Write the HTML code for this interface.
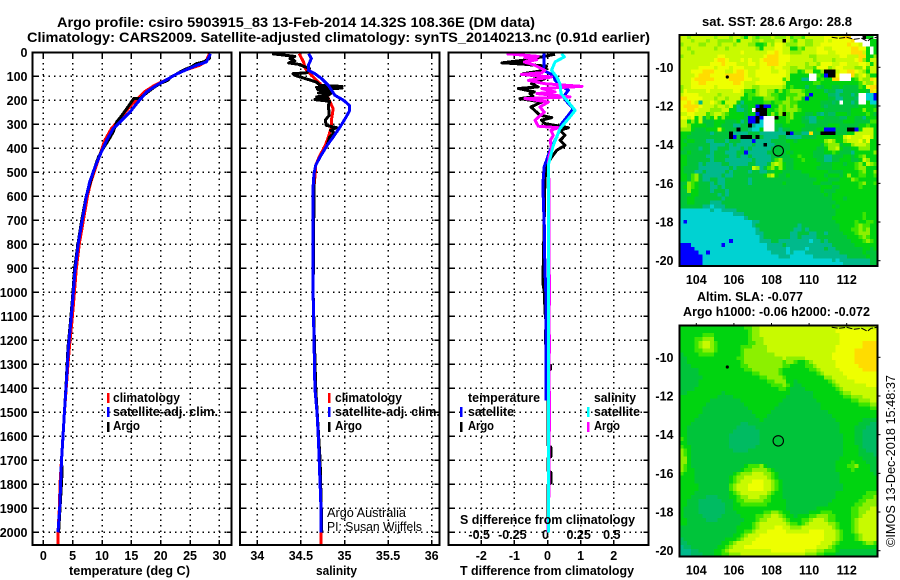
<!DOCTYPE html>
<html lang="en">
<head>
<meta charset="utf-8">
<title>Argo profile csiro 5903915_83</title>
<style>
html,body{margin:0;padding:0;background:#fff;}
#chart{display:block;width:900px;height:580px;background:#fff;}
text{font-family:"Liberation Sans",sans-serif;font-weight:bold;font-size:12.5px;fill:#000;}
.thin{font-weight:normal;}
.frame{fill:none;stroke:#000;stroke-width:1.6;shape-rendering:crispEdges;}
</style>
</head>
<body>
<svg id="chart" xmlns="http://www.w3.org/2000/svg" width="900" height="580" viewBox="0 0 900 580">
  <text x="57" y="27" font-size="14" style="font-size:14px" textLength="478" lengthAdjust="spacingAndGlyphs">Argo profile: csiro 5903915_83 13-Feb-2014 14.32S 108.36E (DM data)</text>
  <text x="27" y="42" style="font-size:14px" textLength="623" lengthAdjust="spacingAndGlyphs">Climatology: CARS2009. Satellite-adjusted climatology: synTS_20140213.nc (0.91d earlier)</text>

  <g id="maps"></g>
  <g id="panels"></g>

  <rect class="frame" x="32.5" y="52.5" width="199" height="492.5"/>
  <rect class="frame" x="240" y="52.5" width="199.5" height="492.5"/>
  <rect class="frame" x="448.5" y="52.5" width="200" height="492.5"/>
  <rect class="frame" x="679.5" y="35" width="198" height="231"/>
  <rect class="frame" x="679.5" y="325.5" width="198" height="231"/>

  <!-- temperature legend -->
  <rect x="107" y="393" width="2.5" height="10" fill="#ff0000"/>
  <rect x="107" y="407" width="2.5" height="10" fill="#0000ff"/>
  <rect x="107" y="422" width="2.5" height="10" fill="#000"/>
  <text x="113" y="402" textLength="67" lengthAdjust="spacingAndGlyphs">climatology</text>
  <text x="113" y="416" textLength="105" lengthAdjust="spacingAndGlyphs">satellite-adj. clim.</text>
  <text x="113" y="430" textLength="27" lengthAdjust="spacingAndGlyphs">Argo</text>

  <!-- salinity legend -->
  <rect x="328" y="393" width="2.5" height="10" fill="#ff0000"/>
  <rect x="328" y="407" width="2.5" height="10" fill="#0000ff"/>
  <rect x="328" y="422" width="2.5" height="10" fill="#000"/>
  <text x="335" y="402" textLength="67" lengthAdjust="spacingAndGlyphs">climatology</text>
  <text x="335" y="416" textLength="105" lengthAdjust="spacingAndGlyphs">satellite-adj. clim.</text>
  <text x="335" y="430" textLength="27" lengthAdjust="spacingAndGlyphs">Argo</text>
  <text class="thin" x="327" y="517" textLength="79" lengthAdjust="spacingAndGlyphs">Argo Australia</text>
  <text class="thin" x="327" y="531" textLength="95" lengthAdjust="spacingAndGlyphs">PI: Susan Wijffels</text>

  <!-- difference legend -->
  <text x="468" y="402" textLength="72" lengthAdjust="spacingAndGlyphs">temperature</text>
  <rect x="460" y="407" width="2.5" height="10" fill="#0000ff"/>
  <text x="468" y="416" textLength="46" lengthAdjust="spacingAndGlyphs">satellite</text>
  <rect x="460" y="422" width="2.5" height="10" fill="#000"/>
  <text x="468" y="430" textLength="26" lengthAdjust="spacingAndGlyphs">Argo</text>
  <text x="594" y="402" textLength="42" lengthAdjust="spacingAndGlyphs">salinity</text>
  <rect x="587" y="407" width="2.5" height="10" fill="#00ffff"/>
  <text x="594" y="416" textLength="46" lengthAdjust="spacingAndGlyphs">satellite</text>
  <rect x="587" y="422" width="2.5" height="10" fill="#ff00ff"/>
  <text x="594" y="430" textLength="26" lengthAdjust="spacingAndGlyphs">Argo</text>

  <!-- axis titles -->
  <text x="69" y="575" textLength="121" lengthAdjust="spacingAndGlyphs">temperature (deg C)</text>
  <text x="316" y="575" textLength="41" lengthAdjust="spacingAndGlyphs">salinity</text>
  <text x="460" y="575" textLength="174" lengthAdjust="spacingAndGlyphs">T difference from climatology</text>
  <text x="460" y="524" textLength="175" lengthAdjust="spacingAndGlyphs">S difference from climatology</text>

  <!-- map captions -->
  <text x="702" y="26" textLength="150" lengthAdjust="spacingAndGlyphs">sat. SST: 28.6 Argo: 28.8</text>
  <text x="697" y="301" textLength="106" lengthAdjust="spacingAndGlyphs">Altim. SLA: -0.077</text>
  <text x="683" y="316" textLength="187" lengthAdjust="spacingAndGlyphs">Argo h1000: -0.06 h2000: -0.072</text>
  <text class="thin" transform="translate(895 547) rotate(-90)" x="0" y="0" style="font-size:13px" textLength="172" lengthAdjust="spacingAndGlyphs">©IMOS 13-Dec-2018 15:48:37</text>
</svg>

<script>
// ---------- profile data ----------
const depthTicks = [0,100,200,300,400,500,600,700,800,900,1000,1100,1200,1300,1400,1500,1600,1700,1800,1900,2000];
const tempTicks = [0,5,10,15,20,25,30];
const salTicks = [34,34.5,35,35.5,36];
const salTickLabels = ['34','34.5','35','35.5','36'];
const diffTicks = [-2,-1,0,1,2];
const diffSalTicks = [-0.5,-0.25,0,0.25,0.5];
const diffSalLabels = ['-0.5','-0.25','0','0.25','0.5'];

const tempClimDepth = [6,40,54,72,91,114,137,165,214,248,290,318,366,429,478,540,603,712,795,907,1032,1128,1228,1300,1400,1500,1600,1700,1800,1900,2000,2054];
const tempClim = [28.3,27.7,26.6,24.4,22.7,21,19,17.2,15.2,14,12.6,11.6,10.5,9.6,8.95,8.1,7.5,6.75,6.15,5.6,5.2,4.85,4.45,4.2,3.9,3.6,3.35,3.1,2.85,2.75,2.5,2.5];
const tempSatDepth = [6,40,54,72,91,114,137,165,214,248,290,318,366,429,478,540,603,712,795,907,1032,1128,1228,1300,1400,1500,1600,1700,1800,1900,2000];
const tempSat = [28.5,27.8,26.1,24.4,22.7,21,19.3,17.6,15.9,14.8,13.1,11.9,10.8,9.65,8.8,7.9,7.3,6.54,5.97,5.4,5,4.67,4.27,4.1,3.87,3.6,3.35,3.1,2.95,2.8,2.5];
const tempArgoDepth = [6,26,40,47,61,75,91,105,116,130,147,169,193,193,225,262,290,332,366,401,436,500,600,700,800,900,1030,1130,1230,1400,1700,1750,2000];
const tempArgo = [28.4,28.3,27.3,26.1,25.2,23.8,22.7,21.6,21.3,19.9,18.8,17.6,16.5,15.4,14.5,13.4,12.5,11.9,11.1,10.2,9.4,8.5,7.3,6.55,5.9,5.35,4.95,4.6,4.2,3.85,3.1,3.2,2.6];

const salClimDepth = [6,40,68,96,131,165,193,235,283,311,353,388,436,471,519,561,700,1000,1200,1400,1500,1600,1700,1800,1900,2000,2054];
const salClim = [34.48,34.53,34.55,34.62,34.72,34.78,34.815,34.87,34.85,34.85,34.815,34.78,34.71,34.67,34.66,34.65,34.64,34.64,34.65,34.66,34.685,34.7,34.71,34.72,34.73,34.73,34.73];
const salSatDepth = [6,26,54,75,89,110,138,179,200,221,242,269,311,353,388,436,471,506,561,700,1000,1200,1400,1500,1600,1700,1800,1900,2000];
const salSat = [34.59,34.62,34.585,34.585,34.66,34.74,34.815,34.89,34.99,35.055,35.06,35.02,34.95,34.87,34.8,34.72,34.67,34.65,34.64,34.64,34.64,34.65,34.66,34.685,34.7,34.71,34.72,34.73,34.73];
const salArgoDepth = [6,17,26,36,44,50,68,85,89,96,124,138,142,146,149,154,158,169,172,179,186,193,197,204,221,262,283,304,314,325,335,353,388,436,471,506,575,1000,1400,1700,2000];
const salArgo = [34.17,34.43,34.375,34.43,34.36,34.47,34.6,34.57,34.41,34.43,34.68,34.72,34.97,34.68,34.97,34.69,34.85,34.7,34.84,34.815,34.68,34.815,34.66,34.83,34.815,34.825,34.78,34.79,34.91,34.84,34.88,34.83,34.8,34.72,34.67,34.65,34.65,34.64,34.67,34.72,34.74];

const diffTSatDepth = [6,54,75,96,117,138,158,186,214,235,262,297,353,408,450,478,547,644,700,900,1000,1450];
const diffTSat = [-0.1,-0.1,-0.13,0.18,0.23,0.38,0.63,0.48,0.63,0.78,0.63,0.43,0.28,0.08,-0.03,-0.1,-0.14,-0.12,-0.1,-0.08,-0.05,-0.05];
const diffTArgoDepth = [8,19,33,44,47,44,50,58,75,89,92,110,131,144,151,165,172,186,193,207,228,262,272,283,297,314,325,346,367,388,408,436,471,533,700,900,970,1000,1080,1150,1158,1212,1230,1300,1305,1320,1330,1640,1645,1685,1690,1745,1750,1795,1800,2000];
const diffTArgo = [0.23,-0.18,-0.73,-1.38,-0.68,-1.3,-0.68,-0.03,-0.08,-0.73,-0.6,-0.08,-0.48,-0.28,-0.88,-0.4,-0.53,-0.43,-0.83,-0.18,-0.5,-0.23,0.13,-0.18,-0.08,0.63,0.38,0.53,0.38,0.53,0.28,0.13,-0.03,-0.08,-0.1,-0.13,-0.13,-0.09,-0.08,-0.02,-0.06,-0.06,-0.02,0.02,0.09,0.09,0.02,0.02,0.1,0.1,0.02,0.02,0.1,0.1,0.02,0.02];
const diffSArgoDepth = [6,17,22,31,40,54,75,85,92,103,117,131,142,151,165,172,186,193,207,228,249,283,308,314,325,346,367,401,436,478,547,925,930,1050,1055,1175,1180,1250,1255,1410,1415,1575,1580,1780,1785,1850,1855,2000];
const diffSArgo = [-0.31,-0.07,-0.17,-0.08,-0.175,-0.095,-0.02,-0.044,-0.195,0.03,-0.145,-0.02,0.26,-0.044,0.057,-0.08,0.17,-0.17,0.006,-0.057,-0.024,-0.094,-0.07,0.08,0.026,0.044,0.02,0.03,0.011,0.006,0.011,0.01,0.016,0.016,0.01,0.01,0.016,0.016,0.01,0.01,0.016,0.016,0.01,0.01,0.013,0.013,0.008,0.004];
const diffSSatDepth = [6,19,40,75,103,131,172,207,242,269,318,388,464,700,2000];
const diffSSat = [0.107,0.127,0.057,0.03,0.07,0.094,0.102,0.157,0.208,0.17,0.094,0.044,0.009,0.009,0.009];

// ---------- map data: one letter per grid cell ----------
const mapPalette = {b:'#0000ff',c:'#00d2d2',t:'#00b98c',s:'#00bb62',g:'#00c43a',h:'#00d410',i:'#3ce600',l:'#8cf000',m:'#c8fa00',y:'#eeff00',o:'#ffdc00',k:'#000000',w:'#ffffff'};
const sstRows = [
"mmlmmmmmml mmmlmmlhml illlmlllmi llimmmmmyy yyyoowwwkhhw",
"mmmlmmmlmm llllmhmmml lmlllmmkml immllmmmym yyyyyowwwwhh",
"lmmmmllmmm lmmmlmmmll hhimlyymll lmmllmmyyy yyyyoyymwwhh",
"mmlmmmmmml mmlmmmmmmm lhmmmyymmh hlimmmyymm yyyyyooyyhwh",
"mmmlmmmmmm mmmmmmymmm mmmyyoymml llmmmmyyym myyyyooomhwh",
"lmmmmmmmmm yymmmmmmmm mmyoooyyym mmmmllmmmm mmyymmmoohhl",
"mmmmmmmmmy ooymmmymym myooooyyym mmmmmlmmmm lmmmmmyolhmm",
"mmmmmmmmyy yoyyymmmyy myyoooyymm mmmlmmlyyy mmyymmmyymhm",
"mmmmmyyyym yyymyyymmm myyymyymml lmmlliyyyl myymmmllyimm",
"mmmyyyoooy yymmyooymm yyyymmyyml lhimmhhlkk kmyyooymlhmm",
"mmmmyoooyy yyoooooymm yyyyyyyymh hhhhwwihbk kywwwolmylhh",
"mmmyoooooy yyyooooyym myyyyyyimh hhttwwhihh oowwwhimlloy",
"mmmyyooyyy yyyyooymmm yyyyyyymhh hhhhhiihhh hhhhhhhimlly",
"lmmyyyyyym yyyyyyymml lmmmmmmlhi hhhshhsghh gghggggihyoo",
"lymmmmmymm mmmmyymiih lmmllhlhil llihhhhhsg gttgggghhgoy",
"myyyymmmmm lmmmmmmhii lmmliihhii illhbhhhhs stgggtgwwccb",
"ooyyyymmml mmlmmmhhih hhlllihhli llhbhhhhhg gttgggswwccb",
"yyoymtmmym lhmmmhthhh hhiihiilli ihhhhhhggg sgwggtgwwhcc",
"yooooymmml mmlmhtgghh bkbbhhlili lhhhhhhgsg ggggggghhhhg",
"yyooymmmll lmmhhttghw kkkhhilill lihhhhhhgg ggggghhhlhhi",
"mmyymmmilm mlihhhhghh bkkhlhlkil hhhgghstgs shhhghhhhihg",
"yymyhmgihm hlhhhhhgbb kbwwwkhhil hhgstthhgg ggsshhggthhh",
"mmhlhmgggh hhggghtgbb kcwwwhhhih hhggttgggg ggghhhggggii",
"mmlhhhhggh hgggttggkt ccwwwgghhh hhhggggggh hhggggghhihh",
"lllhggghhh mhgggkggtc chwwwgtggh hhgggghhbb bgggkkbhmmmh",
"hhhgggggtg gggkttttgg gtttttttkb ggttoggkkk kggghhmmmmmh",
"hhgggggggg gggkbgkkkg kgttttggtt ttgggghhhh hhhmymmmyymh",
"hghhgggttg ggtgggtttb ttttgggghh ghhhhhhhlm lhhlmmmylyhh",
"hhggggggtt ttgtgttttg ttkttggggh hhhhhhhgil llghhlmmmlhh",
"hggggtggtt gggtttgtgt ttttgggggh hhhhhhgghl lmhgghhlllhh",
"gghgggggtg ggtttggbtt tttggggghg hhhhhggghh ihgggthhhhhl",
"hhgggggttg gggttgttgt ttttgggggh hihhhgggtt ggghhghilhhh",
"hhggggggtg ggtttttttg ttttgilggg hhihhhggtt gghhhgghmlhh",
"hhgggtgttt tggtttttgg tttglmlhgg hhhhhhhggg hhhghhilhmli",
"hggggttttt tttgtggggm ltgilhlhgg hhhhhhgggg hhhhhhillhhh",
"hgggttgttt ttgtggggtg gttgghhggg gghhhhhhhg ggghhhhilhhl",
"hhgilgtttt tgttgggggg gghlmhgghg gggghhhhgh hhghlhhiihhi",
"hhgilgttgg ttggggggtg gggggggggg gggggghhhg gghhhlihhhhh",
"gglihgggtg ttggggggtg ggggggghgg ggggghhggg hhhhhhhilhhi",
"ghlihgggtt gtgggggggg gggggggggg ggggggghhh gghhhhhihhhh",
"gglhhgggtg ggtggggggg gggggggggg ggggggghgg ghhhhhhhhhhh",
"ggghhggggg tgtggggggg gggggggggg gggggggghg hhhhhhhhhhhh",
"gghhgggggg gtgggggggg gggggggggg gggggggggg hhhghhhhhhhh",
"gghhggggtt tggggggggg gggggggggg gggggggggg ghhhhhhhhhhh",
"ggggggttct ttgggggggg gggggggggg gggggggggg hghhhhhhhhhh",
"cccccccctc cttttggggg gggggggggg gggggggggg ghhhhhhhhhhh",
"cccccccccc cccctttggg gggggggggg gggggggggg ghhhhhhhihhh",
"cccccccccc ccccccctgg gggggggggg gggggggggg hhhhhhhhihhh",
"cbcccccccc ccccccccct tggggggggg gggggggggg ghhhhhihhiih",
"cccccccccc ccccccccct gggggggggg gtgggggggg gghhhhiliihh",
"cccccccccc cccccccccc tggggggggg ttgtgggggg gghhhiililhh",
"cccccccccc cccccccccc ttgggggggt tgggttggtg ggghhhilllhh",
"cccccccccc cccccccccc ctgggggggt tgttttgggg gggghhhilihh",
"cccccccccc cccbcccccc ctttggtttt ttttcttgtg ggggghhhilih",
"bbbccccccc cbcccccccc cccttttgtt tttttttttt gggggghhhhhh",
"bbbbcccccc cccccccccc ccctttttct tttcttttgt tggggggghhgh",
"bbbbbccbcc cccccccccc ccccttttct cccttttttt ttgggggghggg",
"bbbbbbcccc cccccccccc cccccctttc cccccttttt ttttggggghgg",
"bbbbbbcccc cccccccccc cccccccccc cccccccccc tcttttttttgg",
"bbbbbbcccc cccccccccc cccccccccc cccccccccc ccctttttttgg"
];
const slaRows = [
"hhhhhhhhhh hhhhhhhiil lmmmmmmmmm mmmmmmmmmm mmmmmmmmmmmm",
"hhhhhhhhhh hhhhhhhhil lmmmmmmmmm mmmmmmmmmm myyyyyyyyyyy",
"hhhhhhiiih hhhhhhhhil lmmmmmmmmm mmmmmmmmmm mmyyyyyyyyyy",
"hhhhiilllh hhhhhhhhil llmmmmmmmm mmmmmmmmmm mmyyyyyyyyyy",
"hhhhilmmli hhhhhhhhii llmmmmmmmm mmmmmmmmmm mmyyyyyyoooo",
"hhhhilmmli hhhhhhiiil lllmmmmmmm mmmmmmmmmm myyyyyyyoooo",
"hhhhiillli hhhhhhilll lllmmmmmmm mmmmmmmmmm myyyyyoooooo",
"ghhhhiiiih hhhhhhilll lllllmmmmm mmmmmmmmmm yyyyyyoooooo",
"gghhhhhhhh hhhhhiilll lllllllmll lllmmmmmmm yyyyyyoooooo",
"gghhhhhhhh hhhhhhilll lllllllill ihhilmmmmm myyyyyoooooo",
"ggghhhhhhh hhhhhhiill llllllliih hhhiilmmmm myyyyyyooooo",
"ggggghhhhh hhhhhhhiil llllllihhh hhhhiilmmm mmyyyyyyoooo",
"ggggghhhhh hhhhhhhhhi illlllihhh hhhhhhilmm mmmyyyyyyyyy",
"gggggghhhh hhhhhhhhhh hiillllihh hhhhhhhhll mmmmyyyyyyyy",
"ggggghhhhh hhhhhhhhhh hhhiilllhh ghhhhhhhhi lmmmmmyyyyyy",
"ggggghhhhh hhhhhhhhhh hhhhiiilih gghhhhhhhh ilmmmmmmmyyy",
"gggghhhhhh hhhhhhhhhh hhhhhhiihg ggghhhhhhh hilmmmmmmmmm",
"gghhhhhhhh hghhhhhhhh hhhhhhhhhg ggggghhhhh hhillmmmmmmm",
"hhhhhhhhhh gggghhhhhh hhhhhhhhgg ggggghhhhh hhhiilllmmmm",
"hhhhhhhhgg gggggghhhh hhhhhhhggg gggggghhhh hhhhhiilllmm",
"hhhhhhhggg ggggggghhh hhhhhhgggg ggggggghhh hhhhhhhiiill",
"hhhhhhgggg gggggggghh hhhhhggggg ggggggghhh hhhhhhhhhhii",
"hhhhhhgggg gggggggggh hhhhgggggg gggggggggh hhhhhhhhhhhh",
"hhhhhggggg gggggggggg hhhggggggg gggggggggg hhhhhhhhhhhh",
"hhhhgggggg gggggggggg ghgggggggg gggggggggg ghhhhhhhgggg",
"hhhggggggg ggggggssgg gggggggggg gggggggggg gghhhhhgggss",
"hhgggggggg gggggsssss gggggggggg gggggggggg gghhhhgggsss",
"hhgggggggg ggggssssss sggggggggg gggggggggg gghhhhggssss",
"hhgggggggg gggsssssss sggggggggg gggggggggg ggghhhggssss",
"ihgggggggg gggsssssss sggggggggg gggggggggg ggghhhggssss",
"hhgggggggg gggsssssss sggggggggg gggggggggg ggghhhggssss",
"ihhggggggg gggsssssss gggggggggg gggggggggg ggghhhhgssss",
"lihggggggg ggggssssgg gggggggggg gggggggggg ggghhhhggsss",
"lihggggggg gggggggggg gggggggggg gggggggggg ggghhhhggggs",
"llhggggggg gggggggggg gggggggggg gggggggggg gghhhhhhgggg",
"llhggggggg gggggggggg gggggggggg gggggggggg ghhhhihhhggg",
"lihggggggg ggggggghii ilhggggggg gggggggggg ghhhiilhhhgg",
"lihhgggggg gggggghiil lllihggggg gggggggggg ghhhhihhhhgg",
"ihhhgggggg gggghilllm mmllihgggg gggggggggg gghhhhhhhhhg",
"hhhhgggggg ggghillmmm mmmlihgggg gggggggggg gghhhhhhhhhh",
"hhhhgggggg ggghilmmmy yymmlihggg gggggggggg gghhhhhhhhhh",
"hhhhhggggg gggilmmmyy yymmlihggg gggggggggg ggghhhhhhhhh",
"hhhhhggggg gggilmmmyy yymmlihggg gggggggggg ggghhhhhhhhh",
"hhhhgggggg ggghilmmmm mmmlihhggg gggggggggg ghhhhhhhhiii",
"hhhggggsss ggghhillmm mllihhhggg gggggggggg ghhhhhhhiiil",
"hhgggsssss sggghiilll lliihhhhgg gggggggggg hhhhhhhiilll",
"hhgggsssss ssgghhiiii iiihhhhhgg gggggggggh hhhhhhiillll",
"hggggsssss ssgghhhhhh hhhhhhhhgg gggggghhhh hhhhhiilllmm",
"hggggsssss ssggghhhhh hhiillihhg gggghhhiii hhhhhiillmmm",
"hgggggssss sggggghhhh iillmmlihh ghhhiillli ihhhhiilmmmm",
"hhgggggsss ggggggghhh illmmmmlih hhiilmmmli ihhhhilmmmmm",
"hhgggggggg gggggghhhi lmmmmmmmli ihilmmmmml lihhhilmmmmm",
"gggggggggg ggggghhhhi lmmmmyymml llmmmmmmmm lihhhilmmmmm",
"gggggggggg ggggghhiil mmmyyyyymm mmmmyyyymm mlihhilmmmmm",
"gggggggggg gggghhilmm myyyyyyyyy yyyyyyyymm mlihhhilmmmm",
"sggggggggg gghhhilmmm yyyyyyyyyy yyyyyyyymm mlihhhilmmmm",
"ssgggggggg ghhilmmmmy yyyyyyyyyy yyyyyyymmm lihhhhhhilli",
"tssggggggg hhilmmmyyy yyyyyyyyyy yyyyyymmml ihhhhhhhhhhh",
"tttssggggh hilmmmmmmm mmmmyyyyyy yyymmmllii ihgggggggggg",
"tttsssgggh hiilllmmmm mmmmmmmmmm mmmllliihh hggggggggggg"
];
const lonTicks = [104,106,108,110,112];
const latTicks = [-10,-12,-14,-16,-18,-20];
const coastLon = [111.2,111.6,112,112.4,112.8,113.1,113.3,113.6];
const coastLat = [-8.45,-8.5,-8.45,-8.55,-8.5,-8.65,-8.5,-8.45];
const islandLon = [105.65];
const islandLat = [-10.5];
const floatLon = [108.36];
const floatLat = [-14.32];

// ---------- axis functions ----------
const NS = 'http://www.w3.org/2000/svg';
const yDepth = d => 52.3 + d * 0.24;
const xTemp = t => 43.3 + t * 5.87;
const xSal = s => 257.3 + (s - 34) * 87.2;
const xDiffT = t => 547.5 + t * 33.1;
const xDiffS = s => 547.5 + s * 132.6;
const xLon = lon => 696.3 + (lon - 104) * 18.8;
const ySst = lat => 67.3 + (-10 - lat) * 19.34;
const ySla = lat => 357.3 + (-10 - lat) * 19.34;

const panels = document.getElementById('panels');
const maps = document.getElementById('maps');

function svgEl(tag, parent) {
  const el = document.createElementNS(NS, tag);
  parent.appendChild(el);
  return el;
}

function drawSeries(name, values, depths, xScale, color) {
  const el = svgEl('polyline', panels);
  
  
  const pts = values.map((v, i) => xScale(v).toFixed(1) + ',' + yDepth(depths[i]).toFixed(1));
  el.setAttribute('points', pts.join(' '));
  el.setAttribute('fill', 'none');
  el.setAttribute('stroke', color);
  el.setAttribute('stroke-width', '3');
  el.setAttribute('stroke-linejoin', 'round');
  el.setAttribute('shape-rendering', 'crispEdges');
}

function drawSegment(name, x1, y1, x2, y2, dotted) {
  const el = svgEl('line', panels);
  
  
  el.setAttribute('x1', x1);
  el.setAttribute('y1', y1);
  el.setAttribute('x2', x2);
  el.setAttribute('y2', y2);
  el.setAttribute('stroke', '#000');
  el.setAttribute('stroke-width', '1.5');
  el.setAttribute('shape-rendering', 'crispEdges');
  if (dotted) el.setAttribute('stroke-dasharray', '1.5 4');
}

function drawLabel(name, str, x, y, anchor) {
  const el = svgEl('text', panels);
  
  
  el.setAttribute('x', x);
  el.setAttribute('y', y);
  el.setAttribute('text-anchor', anchor);
  el.textContent = str;
}

function drawGrid(left, right, ticks, xScale) {
  const top = 52.3, bottom = 545;
  depthTicks.forEach(d => {
    const y = yDepth(d);
    drawSegment('depth-gridline', left + 5, y, right - 5, y, true);
    drawSegment('depth-tick-left', left, y, left + 5, y, false);
    drawSegment('depth-tick-right', right - 5, y, right, y, false);
  });
  ticks.forEach(t => {
    const x = xScale(t);
    drawSegment('x-gridline', x, top + 5, x, bottom - 5, true);
    drawSegment('x-tick-top', x, top, x, top + 5, false);
    drawSegment('x-tick-bottom', x, bottom - 5, x, bottom, false);
  });
}

// ---------- profile panels ----------
drawGrid(32.5, 231.5, tempTicks, xTemp);
drawGrid(240, 439.5, salTicks, xSal);
drawGrid(448.5, 648.5, diffTicks, xDiffT);

depthTicks.forEach(d => drawLabel('depth-tick-label', String(d), 27.5, yDepth(d) + 4.5, 'end'));
tempTicks.forEach(t => drawLabel('temperature-tick-label', String(t), xTemp(t), 560, 'middle'));
salTicks.forEach((s, i) => drawLabel('salinity-tick-label', salTickLabels[i], xSal(s), 560, 'middle'));
diffTicks.forEach(t => drawLabel('t-difference-tick-label', String(t), xDiffT(t), 560, 'middle'));
diffSalTicks.forEach((s, i) => drawLabel('s-difference-tick-label', diffSalLabels[i], xDiffS(s) - 2, 539, 'middle'));

drawSeries('temperature-climatology-line', tempClim, tempClimDepth, xTemp, '#ff0000');
drawSeries('temperature-argo-line', tempArgo, tempArgoDepth, xTemp, '#000000');
drawSeries('temperature-satellite-line', tempSat, tempSatDepth, xTemp, '#0000ff');

drawSeries('salinity-climatology-line', salClim, salClimDepth, xSal, '#ff0000');
drawSeries('salinity-argo-line', salArgo, salArgoDepth, xSal, '#000000');
drawSeries('salinity-satellite-line', salSat, salSatDepth, xSal, '#0000ff');

drawSeries('t-difference-argo-line', diffTArgo, diffTArgoDepth, xDiffT, '#000000');
drawSeries('t-difference-satellite-line', diffTSat, diffTSatDepth, xDiffT, '#0000ff');
drawSeries('s-difference-argo-line', diffSArgo, diffSArgoDepth, xDiffS, '#ff00ff');
drawSeries('s-difference-satellite-line', diffSSat, diffSSatDepth, xDiffS, '#00ffff');

// ---------- maps ----------
function drawMap(prefix, rows, yLat, top) {
  const left = 679.5, cw = 198 / 52, ch = 231 / 60;
  rows.forEach((row, r) => {
    const cells = row.replace(/ /g, '');
    for (let c = 0; c < 52; c++) {
      const key = cells[c] || cells[cells.length - 1];
      const el = svgEl('rect', maps);
      
      
      el.setAttribute('x', (left + c * cw).toFixed(2));
      el.setAttribute('y', (top + r * ch).toFixed(2));
      el.setAttribute('width', cw.toFixed(2));
      el.setAttribute('height', ch.toFixed(2));
      el.setAttribute('fill', mapPalette[key]);
      el.setAttribute('shape-rendering', 'crispEdges');
    }
  });

  lonTicks.forEach(lon => {
    const tick = svgEl('line', maps);
    
    
    tick.setAttribute('x1', xLon(lon));
    tick.setAttribute('x2', xLon(lon));
    tick.setAttribute('y1', top - 2.5);
    tick.setAttribute('y2', top);
    tick.setAttribute('stroke', '#000');
    const lab = svgEl('text', maps);
    
    
    lab.setAttribute('x', xLon(lon));
    lab.setAttribute('y', top + 249);
    lab.setAttribute('text-anchor', 'middle');
    lab.textContent = String(lon);
  });

  latTicks.forEach(lat => {
    const tick = svgEl('line', maps);
    
    
    tick.setAttribute('x1', 877.5);
    tick.setAttribute('x2', 880.5);
    tick.setAttribute('y1', yLat(lat));
    tick.setAttribute('y2', yLat(lat));
    tick.setAttribute('stroke', '#000');
    const lab = svgEl('text', maps);
    
    
    lab.setAttribute('x', 673.5);
    lab.setAttribute('y', yLat(lat) + 4.5);
    lab.setAttribute('text-anchor', 'end');
    lab.textContent = String(lat);
  });

  const coast = svgEl('polyline', maps);
  
  
  coast.setAttribute('points', coastLon.map((lon, i) => xLon(lon).toFixed(1) + ',' + yLat(coastLat[i]).toFixed(1)).join(' '));
  coast.setAttribute('fill', 'none');
  coast.setAttribute('stroke', '#000');
  coast.setAttribute('stroke-width', '1');
  coast.setAttribute('stroke-dasharray', '6 1.5');

  islandLon.forEach((lon, i) => {
    const isl = svgEl('circle', maps);
    
    
    isl.setAttribute('cx', xLon(lon));
    isl.setAttribute('cy', yLat(islandLat[i]));
    isl.setAttribute('r', '1.6');
    isl.setAttribute('fill', '#000');
  });

  floatLon.forEach((lon, i) => {
    const mark = svgEl('circle', maps);
    
    
    mark.setAttribute('cx', xLon(lon));
    mark.setAttribute('cy', yLat(floatLat[i]));
    mark.setAttribute('r', '5.2');
    mark.setAttribute('fill', 'none');
    mark.setAttribute('stroke', '#000');
    mark.setAttribute('stroke-width', '1.1');
  });
}

drawMap('sst', sstRows, ySst, 35);
drawMap('sla', slaRows, ySla, 325.5);
</script>
</body>
</html>
